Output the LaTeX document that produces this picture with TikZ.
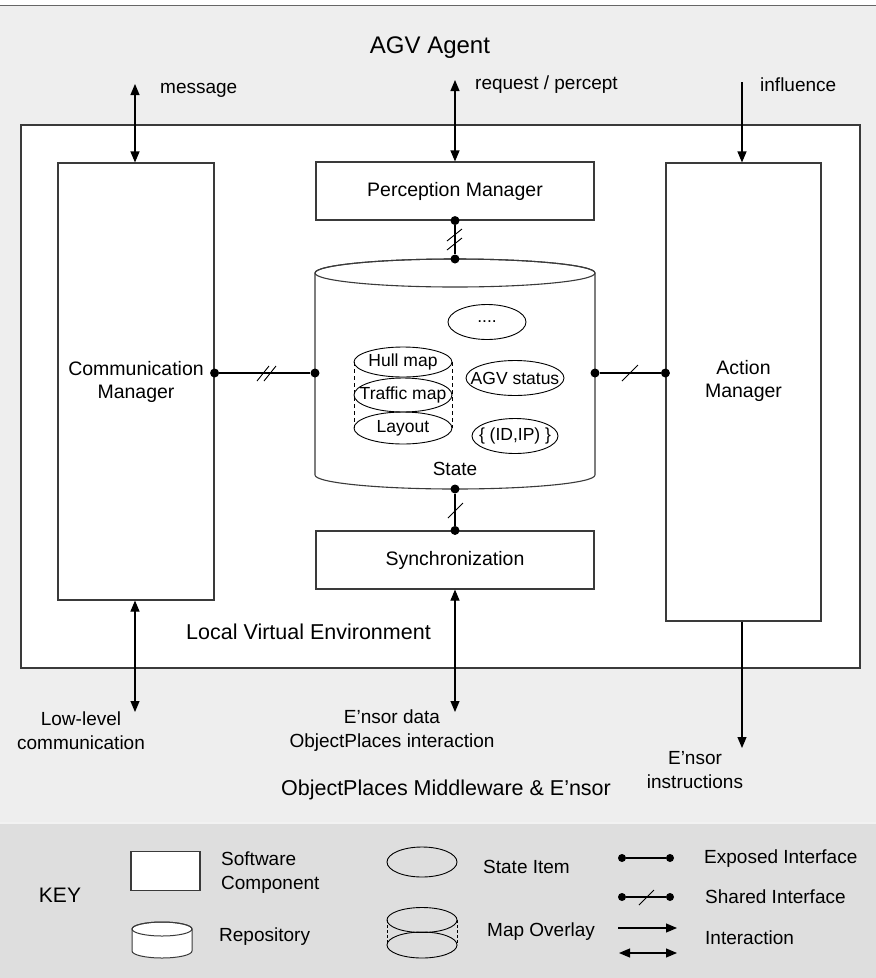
\documentclass[tikz,border=0pt]{standalone}
\usepackage{fontspec}
\setmainfont{Liberation Sans}
\usetikzlibrary{arrows.meta,shapes.geometric}
\definecolor{bgc}{HTML}{EEEEEE}
\definecolor{keyc}{HTML}{DEDEDE}
\definecolor{edge}{HTML}{3A3A3A}
\newcommand\apo{\char39\relax}
\begin{document}
\begin{tikzpicture}[x=1pt,y=-1pt,
  comp/.style={draw=edge, fill=white, line width=1.1pt, inner sep=0pt,
    font=\fontsize{19.5}{23}\selectfont, align=center},
  sitem/.style={ellipse, draw=black, line width=0.9pt, inner sep=0pt},
  itemtxt/.style={inner sep=0pt, font=\fontsize{17.5}{20}\selectfont},
  dot/.style={circle, fill=black, inner sep=0pt, minimum size=9pt},
  conn/.style={draw=black, line width=1.1pt},
  arrow/.style={draw=black, line width=1.1pt, -{Triangle[length=11pt,width=9pt]}},
  biarrow/.style={draw=black, line width=1.1pt,
    {Triangle[length=11pt,width=9pt]}-{Triangle[length=11pt,width=9pt]}},
  lbl/.style={font=\fontsize{19}{24}\selectfont, inner sep=0pt},
  area/.style={font=\fontsize{21.5}{26}\selectfont, inner sep=0pt},
  slash/.style={draw=black, line width=0.9pt},
]
\useasboundingbox (0,0) rectangle (876,978);

% backgrounds
\fill[white] (0,0) rectangle (876,978);
\fill[bgc] (0,6) rectangle (876,978);
\draw[gray!80!black, line width=1.5pt] (0,5.5) -- (876,5.5);
\fill[keyc] (0,824) rectangle (876,978);
\draw[white!60!keyc, line width=1.6pt] (0,823) -- (876,823);

% agent title and the local virtual environment frame
\node[font=\fontsize{24}{28}\selectfont, inner sep=0pt] (agent) at (430,48) {AGV Agent};
\draw[edge, fill=white, line width=1.2pt] (21,125) rectangle (860,668);
\node[area, anchor=west] (lve) at (186,632) {Local Virtual Environment};

% software components
\node[comp, minimum width=156, minimum height=437] (comm) at (136,381.5) {Communication\\Manager};
\node[comp, minimum width=278, minimum height=58] (perc) at (455,191) {Perception Manager};
\node[comp, minimum width=278, minimum height=58] (sync) at (455,560) {Synchronization};
\node[comp, minimum width=155, minimum height=458] (act) at (743.5,392) {};
\node[lbl, align=center, font=\fontsize{19.5}{23}\selectfont] (acttxt) at (743.5,381) {Action\\Manager};

% state repository
\draw[edge, fill=white, line width=1.1pt]
  (315,273) -- (315,475) arc[start angle=180, end angle=0, x radius=140, y radius=14]
  -- (595,273) arc[start angle=0, end angle=-180, x radius=140, y radius=14] -- cycle;
\draw[edge, line width=1.1pt] (455,273) ellipse[x radius=140, y radius=14];
\node[lbl] (statelbl) at (455,469) {State};
\coordinate (cyN) at (455,259);
\coordinate (cyS) at (455,489);
\coordinate (cyW) at (315,373);
\coordinate (cyE) at (595,373);

% state items
\draw[black, line width=0.8pt, dash pattern=on 4pt off 3pt] (354,362) -- (354,428);
\draw[black, line width=0.8pt, dash pattern=on 4pt off 3pt] (452,362) -- (452,428);
\node[sitem, minimum width=98, minimum height=30] (hull) at (403,362) {};
\node[sitem, minimum width=98, minimum height=34] (traffic) at (403,395) {};
\node[sitem, minimum width=98, minimum height=32] (layout) at (403,428) {};
\node[sitem, minimum width=78, minimum height=35] (more) at (487,322) {};
\node[sitem, minimum width=98, minimum height=35] (status) at (515,378) {};
\node[sitem, minimum width=86, minimum height=35] (idip) at (515,436) {};
\node[itemtxt] (hulltxt) at (hull) {Hull map};
\node[itemtxt] (traffictxt) at (traffic) {Traffic map};
\node[itemtxt] (layouttxt) at (layout) {Layout};
\node[itemtxt] (moretxt) at (more) {....};
\node[itemtxt] (statustxt) at (status) {AGV status};
\node[itemtxt] (idiptxt) at (idip) {\{ (ID,IP) \}};

% interfaces between components and the state
\node[dot] (cmE) at (comm.east |- cyW) {};
\node[dot] (stW) at (cyW) {};
\draw[conn] (cmE) -- (stW);
\draw[slash] (257,381) -- (269,366);
\draw[slash] (264,381) -- (276,366);

\node[dot] (stE) at (cyE) {};
\node[dot] (acW) at (act.west |- cyE) {};
\draw[conn] (stE) -- (acW);
\draw[slash] (622,381) -- (638,365);

\node[dot] (pcS) at (perc.south) {};
\node[dot] (stN) at (cyN) {};
\draw[conn] (pcS) -- (stN);
\draw[slash] (447,241) -- (462,229);
\draw[slash] (447,250) -- (462,238);

\node[dot] (stS) at (cyS) {};
\node[dot] (syN) at (sync.north) {};
\draw[conn] (stS) -- (syN);
\draw[slash] (448,518) -- (463,503);

% interactions with the outside
\coordinate (msgend) at (135,84);
\draw[biarrow] (msgend) -- (msgend |- comm.north);
\node[lbl, anchor=west] (msglbl) at (160,90) {message};
\coordinate (reqend) at (455,80);
\draw[biarrow] (reqend) -- (perc.north);
\node[lbl, anchor=west] (reqlbl) at (475,85) {request / percept};
\coordinate (inflend) at (742,82);
\draw[arrow] (inflend) -- (inflend |- act.north);
\node[lbl, anchor=west] (infllbl) at (760,85) {influence};

\coordinate (llcend) at (135,712);
\draw[biarrow] (llcend |- comm.south) -- (llcend);
\node[lbl, align=center] (llclbl) at (81,731) {Low-level\\communication};
\coordinate (ensend) at (455,712);
\draw[biarrow] (sync.south) -- (ensend);
\node[lbl, align=center] (enslbl) at (392,731) {E\apo nsor data\\ObjectPlaces interaction};
\coordinate (eniend) at (742,748);
\draw[arrow] (eniend |- act.south) -- (eniend);
\node[lbl, align=center] (enilbl) at (695,770) {E\apo nsor\\instructions};
\node[area] (mw) at (446,790) {ObjectPlaces Middleware \& E\apo nsor};

% key
\node[font=\fontsize{21}{25}\selectfont, inner sep=0pt] (keylbl) at (60,895) {KEY};
\node[comp, minimum width=69, minimum height=39] (kcomp) at (165.5,871) {};
\node[lbl, anchor=west, align=left] (kcomplbl) at (221,873) {Software\\Component};

\draw[edge, fill=white, line width=1pt]
  (132,929) -- (132,951) arc[start angle=180, end angle=0, x radius=30, y radius=7]
  -- (192,929) arc[start angle=0, end angle=-180, x radius=30, y radius=7] -- cycle;
\draw[edge, line width=1pt] (162,929) ellipse[x radius=30, y radius=7];
\node[lbl, anchor=west] (kreplbl) at (219,937) {Repository};

\node[sitem, minimum width=70, minimum height=30] (kitem) at (422,862) {};
\node[lbl, anchor=west] (kitemlbl) at (483,867) {State Item};

\draw[black, line width=0.8pt, dash pattern=on 3pt off 2pt] (387,920) -- (387,945);
\draw[black, line width=0.8pt, dash pattern=on 3pt off 2pt] (457,920) -- (457,945);
\node[sitem, minimum width=70, minimum height=25] (kmap1) at (422,920) {};
\node[sitem, minimum width=70, minimum height=26] (kmap2) at (422,945) {};
\node[lbl, anchor=west] (kmaplbl) at (487,932) {Map Overlay};

\node[dot, minimum size=8pt] (ke1) at (622,858) {};
\node[dot, minimum size=8pt] (ke2) at (670,858) {};
\draw[conn] (ke1) -- (ke2);
\node[lbl, anchor=west] (kelbl) at (704,859) {Exposed Interface};

\node[dot, minimum size=8pt] (ks1) at (622,897) {};
\node[dot, minimum size=8pt] (ks2) at (670,897) {};
\draw[conn] (ks1) -- (ks2);
\draw[slash] (639,905) -- (654,890);
\node[lbl, anchor=west] (kslbl) at (705,897) {Shared Interface};

\coordinate (ka1) at (618,928);
\coordinate (ka2) at (677,928);
\draw[arrow] (ka1) -- (ka2);
\coordinate (kb1) at (619,953);
\coordinate (kb2) at (677,953);
\draw[biarrow] (kb1) -- (kb2);
\node[lbl, anchor=west] (kalbl) at (705,938) {Interaction};
\end{tikzpicture}
\end{document}
